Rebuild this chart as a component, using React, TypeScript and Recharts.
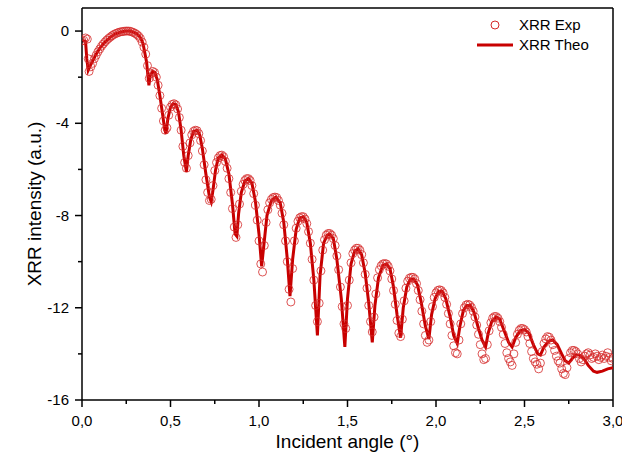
import React from "react";
import {
  ComposedChart,
  Line,
  Scatter,
  XAxis,
  YAxis,
  ReferenceLine,
} from "recharts";

// XRR Theo: [angle, intensity]
const theoPoints: [number, number][] = [
  [0, -0.43], [0.01, -0.42], [0.02, -0.45], [0.027, -1.2], [0.035, -1.7],
  [0.05, -1.45], [0.08, -1.0], [0.1, -0.75], [0.13, -0.48], [0.16, -0.27],
  [0.19, -0.12], [0.22, -0.04], [0.25, 0], [0.27, 0], [0.29, -0.05],
  [0.31, -0.12], [0.33, -0.28], [0.345, -0.55], [0.355, -0.95], [0.365, -1.35],
  [0.372, -1.9], [0.378, -2.35], [0.385, -1.95], [0.4, -1.75], [0.41, -1.78],
  [0.425, -2.1], [0.44, -2.8], [0.455, -3.6], [0.468, -4.3], [0.475, -4.45],
  [0.485, -3.8], [0.5, -3.3], [0.515, -3.15], [0.53, -3.18], [0.545, -3.5],
  [0.56, -4.3], [0.575, -5.4], [0.59, -6.1], [0.6, -5.4], [0.615, -4.7],
  [0.63, -4.35], [0.65, -4.3], [0.665, -4.5], [0.68, -5.1], [0.7, -6.2],
  [0.72, -7.2], [0.73, -7.4], [0.74, -6.9], [0.755, -6.0], [0.77, -5.5],
  [0.79, -5.38], [0.81, -5.55], [0.83, -6.2], [0.85, -7.5], [0.865, -8.8],
  [0.875, -8.9], [0.885, -7.9], [0.9, -7.0], [0.92, -6.5], [0.94, -6.4],
  [0.96, -6.6], [0.98, -7.4], [1.0, -8.8], [1.015, -10.2], [1.03, -9.1],
  [1.045, -8.0], [1.07, -7.35], [1.095, -7.2], [1.12, -7.45], [1.14, -8.3],
  [1.16, -9.9], [1.175, -11.5], [1.19, -9.9], [1.21, -8.6], [1.23, -8.1],
  [1.25, -8.05], [1.27, -8.3], [1.29, -9.2], [1.31, -10.8], [1.33, -13.2],
  [1.345, -10.6], [1.365, -9.2], [1.385, -8.85], [1.4, -8.8], [1.42, -9.0],
  [1.44, -9.9], [1.465, -11.6], [1.485, -13.7], [1.5, -11.6], [1.52, -10.1],
  [1.54, -9.55], [1.56, -9.45], [1.58, -9.7], [1.6, -10.5], [1.62, -11.8],
  [1.64, -13.5], [1.655, -11.9], [1.675, -10.7], [1.7, -10.15], [1.72, -10.1],
  [1.74, -10.3], [1.76, -11.1], [1.78, -12.3], [1.8, -13.3], [1.815, -12.0],
  [1.835, -11.1], [1.855, -10.75], [1.875, -10.75], [1.895, -11.0], [1.915, -11.7],
  [1.94, -12.8], [1.96, -13.35], [1.975, -12.3], [1.995, -11.6], [2.015, -11.3],
  [2.035, -11.3], [2.055, -11.6], [2.08, -12.4], [2.1, -13.2], [2.12, -13.55],
  [2.135, -12.8], [2.155, -12.1], [2.175, -11.9], [2.195, -11.9], [2.215, -12.2],
  [2.24, -12.9], [2.26, -13.4], [2.28, -13.7], [2.295, -13.1], [2.315, -12.6],
  [2.34, -12.4], [2.36, -12.5], [2.385, -13.0], [2.41, -13.5], [2.43, -13.7],
  [2.45, -13.3], [2.475, -13.0], [2.5, -12.95], [2.525, -13.1], [2.55, -13.6],
  [2.575, -14.0], [2.59, -14.05], [2.61, -13.7], [2.635, -13.45], [2.66, -13.4],
  [2.685, -13.6], [2.71, -14.0], [2.73, -14.3], [2.75, -14.4], [2.77, -14.2],
  [2.79, -14.05], [2.81, -14.05], [2.835, -14.2], [2.86, -14.5], [2.89, -14.75],
  [2.91, -14.8], [2.94, -14.75], [2.97, -14.65], [3.0, -14.6],
];

// XRR Exp: [angle, intensity]
const expPoints: [number, number][] = [
  [0, -0.43], [0.01, -0.4], [0.02, -0.3], [0.03, -0.35], [0.035, -1.2], [0.04, -1.75],
  [0.05, -1.55], [0.06, -1.4], [0.07, -1.2], [0.08, -1.05], [0.09, -0.9],
  [0.1, -0.78], [0.11, -0.66], [0.12, -0.56], [0.13, -0.47], [0.14, -0.39],
  [0.15, -0.32], [0.16, -0.26], [0.17, -0.2], [0.18, -0.15], [0.19, -0.11],
  [0.2, -0.08], [0.21, -0.05], [0.22, -0.03], [0.23, -0.02], [0.24, -0.01],
  [0.25, 0], [0.26, 0], [0.27, -0.01], [0.28, -0.03], [0.29, -0.06],
  [0.3, -0.1], [0.31, -0.15], [0.32, -0.22], [0.33, -0.32], [0.34, -0.48],
  [0.35, -0.7], [0.36, -1.0], [0.37, -1.5], [0.38, -2.05], [0.39, -1.85],
  [0.4, -1.75], [0.41, -1.8], [0.42, -2.0], [0.43, -2.35], [0.44, -2.8],
  [0.45, -3.35], [0.46, -3.9], [0.47, -4.3], [0.48, -4.2], [0.49, -3.65],
  [0.5, -3.3], [0.51, -3.18], [0.52, -3.15], [0.53, -3.2], [0.54, -3.38],
  [0.55, -3.75], [0.56, -4.3], [0.57, -5.0], [0.58, -5.7], [0.59, -5.95],
  [0.6, -5.4], [0.61, -4.85], [0.62, -4.5], [0.63, -4.35], [0.64, -4.3],
  [0.65, -4.32], [0.66, -4.45], [0.67, -4.75], [0.68, -5.2], [0.69, -5.8],
  [0.7, -6.45], [0.71, -7.0], [0.72, -7.35], [0.73, -7.3], [0.74, -6.7],
  [0.75, -6.05], [0.76, -5.7], [0.77, -5.5], [0.78, -5.4], [0.79, -5.38],
  [0.8, -5.45], [0.81, -5.65], [0.82, -5.95], [0.83, -6.4], [0.84, -7.0],
  [0.85, -7.7], [0.86, -8.5], [0.87, -8.95], [0.88, -8.4], [0.89, -7.5],
  [0.9, -6.95], [0.91, -6.65], [0.92, -6.48], [0.93, -6.4], [0.94, -6.4],
  [0.95, -6.48], [0.96, -6.7], [0.97, -7.05], [0.98, -7.55], [0.99, -8.2],
  [1.0, -9.1], [1.01, -10.1], [1.02, -10.45], [1.03, -9.3], [1.04, -8.3],
  [1.05, -7.75], [1.06, -7.45], [1.07, -7.3], [1.08, -7.22], [1.09, -7.2],
  [1.1, -7.22], [1.11, -7.35], [1.12, -7.55], [1.13, -7.9], [1.14, -8.4],
  [1.15, -9.1], [1.16, -10.0], [1.17, -11.2], [1.18, -11.75], [1.19, -10.3],
  [1.2, -9.1], [1.21, -8.55], [1.22, -8.25], [1.23, -8.1], [1.24, -8.05],
  [1.25, -8.05], [1.26, -8.15], [1.27, -8.35], [1.28, -8.7], [1.29, -9.2],
  [1.3, -9.9], [1.31, -10.8], [1.32, -11.9], [1.33, -12.6], [1.34, -11.8],
  [1.35, -10.4], [1.36, -9.5], [1.37, -9.05], [1.38, -8.85], [1.39, -8.78],
  [1.4, -8.78], [1.41, -8.85], [1.42, -9.0], [1.43, -9.3], [1.44, -9.75],
  [1.45, -10.35], [1.46, -11.1], [1.47, -11.95], [1.48, -12.7], [1.49, -12.9],
  [1.5, -11.9], [1.51, -10.8], [1.52, -10.05], [1.53, -9.65], [1.54, -9.5],
  [1.55, -9.42], [1.56, -9.42], [1.57, -9.5], [1.58, -9.7], [1.59, -10.05],
  [1.6, -10.55], [1.61, -11.15], [1.62, -11.9], [1.63, -12.6], [1.64, -13.05],
  [1.65, -12.4], [1.66, -11.4], [1.67, -10.7], [1.68, -10.35], [1.69, -10.18],
  [1.7, -10.1], [1.71, -10.08], [1.72, -10.1], [1.73, -10.2], [1.74, -10.4],
  [1.75, -10.75], [1.76, -11.25], [1.77, -11.85], [1.78, -12.55], [1.79, -13.1],
  [1.8, -13.25], [1.81, -12.5], [1.82, -11.7], [1.83, -11.15], [1.84, -10.85],
  [1.85, -10.72], [1.86, -10.68], [1.87, -10.68], [1.88, -10.75], [1.89, -10.95],
  [1.9, -11.25], [1.91, -11.65], [1.92, -12.15], [1.93, -12.7], [1.94, -13.2],
  [1.95, -13.5], [1.96, -13.4], [1.97, -12.6], [1.98, -11.95], [1.99, -11.55],
  [2.0, -11.35], [2.01, -11.25], [2.02, -11.22], [2.03, -11.25], [2.04, -11.35],
  [2.05, -11.55], [2.06, -11.85], [2.07, -12.25], [2.08, -12.7], [2.09, -13.2],
  [2.1, -13.65], [2.11, -13.95], [2.12, -14.0], [2.13, -13.4], [2.14, -12.7],
  [2.15, -12.25], [2.16, -12.0], [2.17, -11.88], [2.18, -11.85], [2.19, -11.88],
  [2.2, -11.98], [2.21, -12.15], [2.22, -12.4], [2.23, -12.75], [2.24, -13.15],
  [2.25, -13.6], [2.26, -14.0], [2.27, -14.25], [2.28, -14.2], [2.29, -13.6],
  [2.3, -13.0], [2.31, -12.65], [2.32, -12.45], [2.33, -12.38], [2.34, -12.38],
  [2.35, -12.45], [2.36, -12.6], [2.37, -12.85], [2.38, -13.15], [2.39, -13.55],
  [2.4, -13.95], [2.41, -14.2], [2.42, -14.35], [2.43, -14.5], [2.44, -14.0],
  [2.45, -13.5], [2.46, -13.15], [2.47, -12.98], [2.48, -12.9], [2.49, -12.9],
  [2.5, -12.95], [2.51, -13.05], [2.52, -13.25], [2.53, -13.55], [2.54, -13.9],
  [2.55, -14.2], [2.56, -14.35], [2.57, -14.45], [2.58, -14.65], [2.59, -14.4],
  [2.6, -13.9], [2.61, -13.55], [2.62, -13.35], [2.63, -13.25], [2.64, -13.28],
  [2.65, -13.4], [2.66, -13.6], [2.67, -13.85], [2.68, -14.1], [2.69, -14.3],
  [2.7, -14.4], [2.71, -14.65], [2.72, -14.85], [2.73, -14.9], [2.74, -14.6],
  [2.75, -14.2], [2.76, -13.95], [2.77, -13.85], [2.78, -13.85], [2.79, -13.9],
  [2.8, -14.0], [2.81, -14.2], [2.82, -14.35], [2.83, -14.25], [2.84, -14.1],
  [2.85, -14.0], [2.86, -13.95], [2.87, -14.05], [2.88, -14.2], [2.89, -14.15],
  [2.9, -14.0], [2.91, -14.1], [2.92, -14.25], [2.93, -14.15], [2.94, -14.05],
  [2.95, -14.2], [2.96, -14.1], [2.97, -13.95], [2.98, -14.15], [2.99, -14.3],
  [3.0, -14.2],
];

const xTicks = [0, 0.25, 0.5, 0.75, 1, 1.25, 1.5, 1.75, 2, 2.25, 2.5, 2.75, 3];
const yTicks = [-16, -14, -12, -10, -8, -6, -4, -2, 0];

const RED = "#c80000";
const FONT = "'Liberation Sans', Arial, sans-serif";

const theoData = theoPoints.map(([x, y]) => ({ x, y }));
const expData = expPoints.map(([x, y]) => ({ x, y }));

const XTick = (props: any) => {
  const { x, y, payload } = props;
  const major = Math.abs(payload.value * 2 - Math.round(payload.value * 2)) < 1e-6;
  return (
    <g>
      <line x1={x} y1={y} x2={x} y2={y + (major ? 7 : 4)} stroke="#000" strokeWidth={1.5} />
      {major && (
        <text x={x} y={y + 26} textAnchor="middle" fontSize={15} fontFamily={FONT} fill="#000">
          {payload.value.toFixed(1).replace(".", ",")}
        </text>
      )}
    </g>
  );
};

const YTick = (props: any) => {
  const { x, y, payload } = props;
  const major = payload.value % 4 === 0;
  return (
    <g>
      <line x1={x - (major ? 7 : 4)} y1={y} x2={x} y2={y} stroke="#000" strokeWidth={1.5} />
      {major && (
        <text x={x - 13} y={y + 5} textAnchor="end" fontSize={15} fontFamily={FONT} fill="#000">
          {payload.value}
        </text>
      )}
    </g>
  );
};

const ExpDot = (props: any) => {
  const { cx, cy } = props;
  if (cx == null || cy == null) return null;
  return <circle cx={cx} cy={cy} r={4} fill="none" stroke="#d42a2a" strokeWidth={0.8} />;
};

const ChartLegend = () => (
  <svg
    width={140}
    height={56}
    style={{ position: "absolute", left: 470, top: 8, overflow: "visible" }}
  >
    <circle cx={25} cy={17} r={4} fill="none" stroke="#d42a2a" strokeWidth={1} />
    <text x={49} y={22} fontSize={15} fontFamily={FONT} fill="#000">XRR Exp</text>
    <line x1={7} y1={37} x2={43} y2={37} stroke={RED} strokeWidth={3} />
    <text x={49} y={42} fontSize={15} fontFamily={FONT} fill="#000">XRR Theo</text>
  </svg>
);

const App: React.FC = () => {
  return (
    <div style={{ position: "absolute", left: 0, top: 0, width: 622, height: 461, background: "#fff" }}>
      <ComposedChart
        width={622}
        height={461}
        margin={{ top: 8, right: 9, bottom: 0, left: 0 }}
      >
        <XAxis
          dataKey="x"
          type="number"
          domain={[0, 3]}
          ticks={xTicks}
          allowDataOverflow
          height={61}
          tickSize={0}
          tickMargin={0}
          tickLine={false}
          tick={<XTick />}
          axisLine={{ stroke: "#000", strokeWidth: 1.5 }}
          label={{
            content: (p: any) => (
              <text
                x={p.viewBox.x + p.viewBox.width / 2}
                y={p.viewBox.y + 48}
                textAnchor="middle"
                fontSize={19}
                fontFamily={FONT}
                fill="#000"
              >
                Incident angle (°)
              </text>
            ),
          }}
        />
        <YAxis
          type="number"
          domain={[-16, 1]}
          ticks={yTicks}
          allowDataOverflow
          width={82}
          tickSize={0}
          tickMargin={0}
          tickLine={false}
          tick={<YTick />}
          axisLine={{ stroke: "#000", strokeWidth: 1.5 }}
          label={{
            content: (p: any) => {
              const cx = 41;
              const cy = p.viewBox.y + p.viewBox.height / 2;
              return (
                <text
                  x={cx}
                  y={cy}
                  transform={`rotate(-90, ${cx}, ${cy})`}
                  textAnchor="middle"
                  fontSize={19}
                  fontFamily={FONT}
                  fill="#000"
                >
                  XRR intensity (a.u.)
                </text>
              );
            },
          }}
        />
        <ReferenceLine y={1} stroke="#000" strokeWidth={1.5} />
        <ReferenceLine x={3} stroke="#000" strokeWidth={1.5} />
        <Scatter
          name="XRR Exp"
          data={expData}
          dataKey="y"
          shape={<ExpDot />}
          isAnimationActive={false}
        />
        <Line
          name="XRR Theo"
          data={theoData}
          dataKey="y"
          type="linear"
          stroke={RED}
          strokeWidth={3}
          dot={false}
          activeDot={false}
          isAnimationActive={false}
        />
      </ComposedChart>
      <ChartLegend />
    </div>
  );
};

export default App;
